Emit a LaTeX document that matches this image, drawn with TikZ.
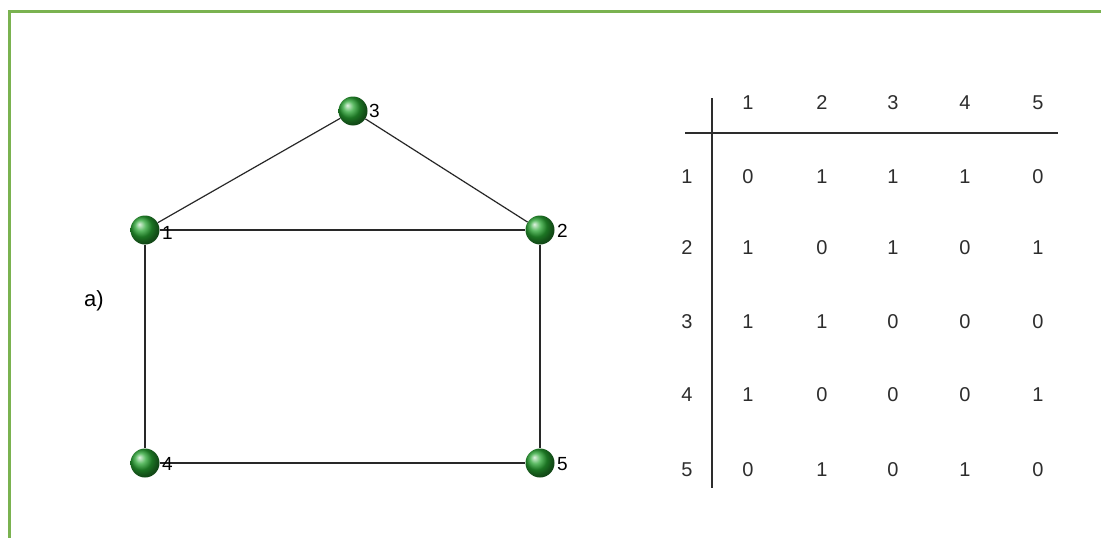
\documentclass[tikz,border=0pt]{standalone}
\usepackage{fontspec}
\setmainfont{Liberation Sans}
\definecolor{framegreen}{RGB}{122,178,80}
\definecolor{ballgreen}{RGB}{40,165,50}
\definecolor{edgegray}{RGB}{40,40,40}
\definecolor{tabgray}{RGB}{45,45,45}
\begin{document}
\begin{tikzpicture}[x=1pt,y=-1pt,
  vtx/.style={circle,minimum size=29pt,inner sep=0pt,shading=ball,ball color=ballgreen},
  vlab/.style={anchor=west,inner sep=0pt,font=\fontsize{19}{19}\selectfont},
  edge/.style={draw=edgegray,line width=1.2pt},
  cell/.style={inner sep=0pt,text=tabgray,font=\fontsize{20}{20}\selectfont},
  rule/.style={draw=tabgray,line width=1.2pt}]
\useasboundingbox (0,0) rectangle (1101,538);
\fill[white] (0,0) rectangle (1101,538);
% frame
\draw[framegreen,line width=2.5pt] (9.5,545) -- (9.5,11.5) -- (1110,11.5);
% vertices
\node[vtx] (v1) at (145,230) {};
\node[vtx] (v2) at (540,230) {};
\node[vtx] (v3) at (353,111) {};
\node[vtx] (v4) at (145,463) {};
\node[vtx] (v5) at (540,463) {};
% edges
\draw[edge] (v1) -- (v3);
\draw[edge] (v3) -- (v2);
\draw[edge] (v1) -- (v2);
\draw[edge] (v1) -- (v4);
\draw[edge] (v2) -- (v5);
\draw[edge] (v4) -- (v5);
% vertex labels
\node[vlab] (l1) at (162,233) {1};
\node[vlab] (l2) at (557,231) {2};
\node[vlab] (l3) at (369,111) {3};
\node[vlab] (l4) at (162,464) {4};
\node[vlab] (l5) at (557,464) {5};
\node[font=\fontsize{22}{22}\selectfont,inner sep=0pt] (a) at (94,301) {a)};
% matrix rules
\coordinate (vt) at (712,98);
\coordinate (vb) at (712,488);
\coordinate (hl) at (685,133);
\coordinate (hr) at (1058,133);
\draw[rule] (vt) -- (vb);
\draw[rule] (hl) -- (hr);
% headers
\foreach \c/\x in {1/748,2/822,3/893,4/965,5/1038}
  \node[cell] (h\c) at (\x,103) {\c};
\foreach \r/\y in {1/177,2/248,3/322,4/395,5/470}
  \node[cell] (r\r) at (687,\y) {\r};
% entries
\foreach \y/\row in {177/{0,1,1,1,0},248/{1,0,1,0,1},322/{1,1,0,0,0},395/{1,0,0,0,1},470/{0,1,0,1,0}}{
  \foreach \v [count=\i] in \row {
    \pgfmathsetmacro{\xx}{{748,822,893,965,1038}[\i-1]}
    \node[cell] at (\xx,\y) {\v};
  }
}
\end{tikzpicture}
\end{document}
